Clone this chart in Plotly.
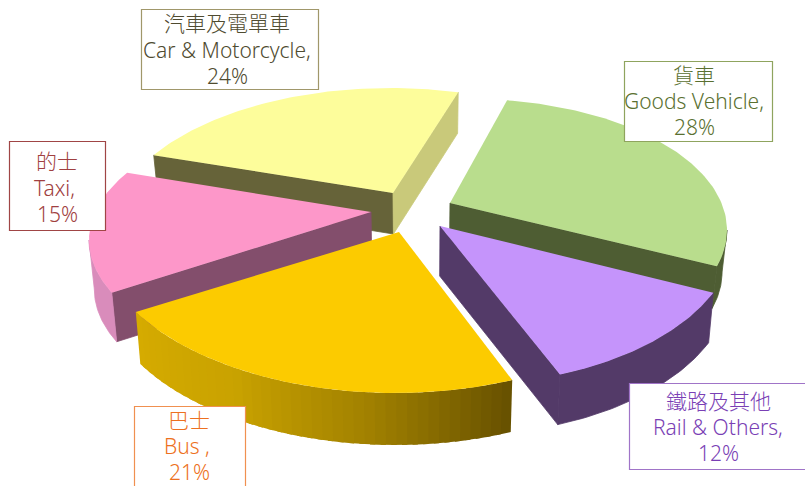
import math
import plotly.graph_objects as go

# ---------- data ----------
names_zh = ["貨車", "鐵路及其他", "巴士", "的士", "汽車及電單車"]
names_en = ["Goods Vehicle,", "Rail &amp; Others,", "Bus ,", "Taxi,", "Car &amp; Motorcycle,"]
shares = [28, 12, 21, 15, 24]

# ---------- styling / projection of each slice (same order as the data) ----------
apex = [(450, 203), (440, 226), (399, 232), (371, 212), (393, 193)]
centre = [(470, 230), (460, 232), (395, 230), (375, 240), (390, 230)]
radii = [(257, 131), (276, 153), (300, 163), (286, 135), (278, 142)]
turn = [8.3, 12.6, 13.0, 27.4, 28.2]
stretch = [0.97, 1.05, 1.095, 0.98, 0.838]
depth = [42, 50, 52, 49, 41]
top_col = ["#b9dd8d", "#c594fb", "#fccb00", "#fd97c9", "#fdfd9b"]
# (which radius, colour) for cut faces that can be seen
faces = [[("end", "#4e5d33")], [("end", "#533a68")], [], [("start", "#834e6c")],
         [("start", "#666339"), ("end", "#c9c97a")]]
# wall: first angle from, last angle to and colour stops along the arc
wall_from = [90, None, None, None, None]
wall_to = [None, None, None, 270, None]
wall_cols = [["#4e5d33"], ["#533a68"],
             ["#665000", "#a08000", "#c9a200", "#d5ab00"], ["#d98cbb"], None]
draw_order = [4, 0, 3, 1, 2]
VANISH_X, CONVERGE = 420, 0.016

label_col = ["#5a7030", "#7a3fb5", "#ed7020", "#a04040", "#4f4b30"]
label_border = ["#8fa45e", "#a074c8", "#f09050", "#a04545", "#a0976a"]
label_box = [(624, 61, 148, 80), (629, 383, 178, 86), (134, 406, 111, 85), (9, 141, 96, 89), (141, 9, 177, 80)]
line_x = [(694, 694, 694), (718, 718, 718), (189, 187, 189), (57, 54, 57), (227, 227, 227)]
line_y = [(75, 101, 127), (401, 427, 453), (420.3, 446.3, 472.3), (161, 187.5, 213.5), (23, 50, 76)]


def hex2rgb(h):
    return tuple(int(h[i:i + 2], 16) for i in (1, 3, 5))


def mix(stops, f):
    p = f * (len(stops) - 1)
    i = min(int(p), len(stops) - 2)
    a, b = hex2rgb(stops[i]), hex2rgb(stops[i + 1])
    g = p - i
    return "rgb(%d,%d,%d)" % tuple(round(a[k] + (b[k] - a[k]) * g) for k in range(3))


def poly(fig, pts, color, edge=0):
    fig.add_trace(go.Scatter(
        x=[p[0] for p in pts] + [pts[0][0]], y=[p[1] for p in pts] + [pts[0][1]],
        mode="lines", fill="toself", fillcolor=color,
        line=dict(width=edge, color=color), hoverinfo="skip", showlegend=False))


def drop(p, d):
    return (p[0] + (VANISH_X - p[0]) * CONVERGE, p[1] + d)


fig = go.Figure()
total = sum(shares)
starts = [sum(shares[:i]) / total * 360 for i in range(len(shares))]

for i in draw_order:
    t0 = starts[i] + turn[i]
    t1 = t0 + shares[i] / total * 360 * stretch[i]
    cx, cy = centre[i]
    rx, ry = radii[i]
    d = depth[i]

    def P(t):
        a = math.radians(t)
        return (cx + rx * math.sin(a), cy - ry * math.cos(a))

    A = apex[i]
    for side, col in faces[i]:
        E = P(t0 if side == "start" else t1)
        poly(fig, [A, E, drop(E, d), drop(A, d)], col, 0.8)
    if wall_cols[i]:
        a = wall_from[i] if wall_from[i] is not None else t0
        b = wall_to[i] if wall_to[i] is not None else t1
        stops = wall_cols[i]
        if len(stops) == 1:
            up = [P(a + (b - a) * k / 40) for k in range(41)]
            poly(fig, up + [drop(p, d) for p in up][::-1], stops[0], 0.8)
        else:
            n = 40
            for k in range(n):
                # each strip runs on under the next one, so no seams show
                strip = [a + (b - a) * min(k + j * 0.5, n) / n for j in range(4)]
                up = [P(t) for t in strip]
                poly(fig, up + [drop(p, d) for p in up][::-1], mix(stops, (k + .5) / n))
    n = 80
    arc = [P(t0 + (t1 - t0) * k / n) for k in range(n + 1)]
    poly(fig, [A] + arc, top_col[i])

for i in range(len(shares)):
    x, y, w, h = label_box[i]
    fig.add_shape(type="rect", x0=x + .5, y0=y + .5, x1=x + w + .5, y1=y + h + .5, fillcolor="white",
                  line=dict(color=label_border[i], width=1.2), layer="above")
    for j, txt in enumerate((names_zh[i], names_en[i], f"{shares[i]}%")):
        fig.add_annotation(
            x=line_x[i][j], y=line_y[i][j], xref="x", yref="y",
            xanchor="center", yanchor="middle", align="center", showarrow=False, text=txt,
            font=dict(family="Noto Sans, Noto Sans CJK TC", size=21, weight=300, color=label_col[i]))

fig.update_layout(
    width=805, height=486, margin=dict(l=0, r=0, t=0, b=0), showlegend=False,
    paper_bgcolor="white", plot_bgcolor="white",
    xaxis=dict(range=[0, 805], visible=False, fixedrange=True),
    yaxis=dict(range=[486, 0], visible=False, fixedrange=True),
)
fig.write_html("out.html", config=dict(displayModeBar=False),
               post_script="document.body.style.margin='0';document.body.style.overflow='hidden';")
